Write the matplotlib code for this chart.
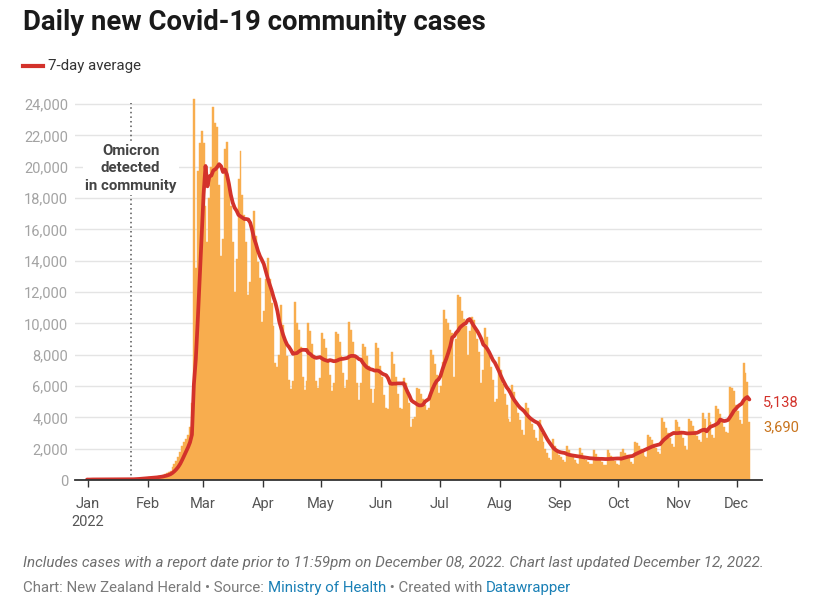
import pandas as pd
import matplotlib
matplotlib.use("Agg")
import matplotlib.pyplot as plt
import matplotlib.dates as mdates
from matplotlib.lines import Line2D

plt.rcParams['font.family'] = ['Roboto', 'DejaVu Sans']

# daily community cases from 1 Jan 2022, one row per week (Mon..Sun)
start_date = "2022-01-01"
daily_cases = [
    30, 25,                                              # Sat 1 - Sun 2 Jan
    45, 42, 38, 36, 30, 24, 22,                          # 3 Jan
    40, 46, 42, 38, 34, 30, 28,                          # 10 Jan
    44, 48, 52, 45, 40, 35, 36,                          # 17 Jan
    60, 75, 90, 95, 100, 105, 80,                        # 24 Jan
    120, 140, 160, 180, 190, 200, 180,                   # 31 Jan
    230, 260, 310, 360, 420, 480, 550,                   # 7 Feb
    800, 1000, 1200, 1450, 1800, 2200, 2450,             # 14 Feb
    2600, 2900, 3400, 4900, 24300, 13500, 19700,         # 21 Feb
    21500, 22300, 21500, 17500, 15200, 18000, 20000,     # 28 Feb
    23800, 22800, 22500, 18800, 14300, 15400, 21100,     # 7 Mar
    21600, 18800, 17500, 15200, 12000, 14100, 19200,     # 14 Mar
    21000, 18200, 16900, 15200, 11800, 12650, 16000,     # 21 Mar
    17200, 15600, 13900, 12900, 10100, 10800, 12800,     # 28 Mar
    14150, 12800, 11300, 9800, 7450, 7200, 7950,         # 4 Apr
    11150, 9900, 8900, 7900, 6400, 5800, 6300,           # 11 Apr
    11380, 10000, 9600, 8500, 6600, 5750, 6300,          # 18 Apr
    10000, 9500, 8700, 8000, 6300, 5900, 6500,           # 25 Apr
    9360, 9000, 8400, 7700, 6700, 5700, 6200,            # 2 May
    9470, 9300, 8800, 7900, 6800, 5850, 6400,            # 9 May
    10100, 9600, 8800, 7800, 6200, 5100, 6200,           # 16 May
    8680, 8500, 7900, 7300, 5800, 4900, 5800,            # 23 May
    8720, 8400, 7300, 6600, 5400, 4570, 4500,            # 30 May
    6400, 8190, 7400, 6600, 5500, 4570, 4500,            # 6 Jun
    6490, 6200, 5500, 4900, 3400, 3900, 3990,            # 13 Jun
    5850, 5800, 5500, 5200, 4800, 4470, 4600,            # 20 Jun
    8300, 8000, 7400, 6700, 5530, 6000, 7500,            # 27 Jun
    10850, 10300, 10000, 9600, 9400, 6600, 9000,         # 4 Jul
    11810, 11700, 10800, 10300, 9800, 8000, 9500,        # 11 Jul
    10430, 10200, 9500, 9000, 8200, 6170, 7000,          # 18 Jul
    9680, 9100, 8000, 7200, 6400, 5000, 5200,            # 25 Jul
    7870, 7000, 6100, 5500, 4800, 3900, 3700,            # 1 Aug
    6060, 5600, 4900, 4300, 3800, 3200, 2900,            # 8 Aug
    4940, 4600, 4000, 3600, 3200, 2700, 2500,            # 15 Aug
    3830, 3000, 2400, 2000, 1700, 1400, 1300,            # 22 Aug
    2600, 2200, 1800, 1600, 1450, 1250, 1150,            # 29 Aug
    2150, 1900, 1600, 1450, 1300, 1100, 1050,            # 5 Sep
    2020, 1750, 1450, 1300, 1150, 1000, 1000,            # 12 Sep
    1900, 1650, 1450, 1300, 1150, 950, 950,              # 19 Sep
    1915, 1700, 1500, 1350, 1200, 1000, 950,             # 26 Sep
    1800, 1950, 1750, 1600, 1450, 1150, 1050,            # 3 Oct
    2440, 2350, 2200, 2000, 1800, 1550, 1450,            # 10 Oct
    2870, 2750, 2550, 2300, 2050, 1800, 1650,            # 17 Oct
    3940, 3700, 3300, 3000, 2700, 2300, 2100,            # 24 Oct
    3830, 3700, 3400, 3100, 2700, 2150, 1915,            # 31 Oct
    3870, 3750, 3450, 3150, 2800, 2550, 2400,            # 7 Nov
    4250, 3900, 2700, 4300, 3700, 2900, 2700,            # 14 Nov
    4720, 4500, 4200, 3900, 3400, 3090, 3000,            # 21 Nov
    5950, 5850, 5700, 4800, 4400, 3800, 3570,            # 28 Nov
    7450, 6810, 6246, 3690,                              # 5 - 8 Dec
]
window = 7

y_ticks = [0, 2000, 4000, 6000, 8000, 10000, 12000, 14000, 16000, 18000, 20000, 22000, 24000]
year_label = "2022"
title = "Daily new Covid-19 community cases"
legend_label = "7-day average"
event_date = "2022-01-23"
event_text = "Omicron\ndetected\nin community"
note = ("Includes cases with a report date prior to 11:59pm on December 08, 2022. "
        "Chart last updated December 12, 2022.")
credit_parts = [("Chart: New Zealand Herald \u2022 Source: ", "#7a7a7a"),
                ("Ministry of Health", "#1a80b6"),
                (" \u2022 Created with ", "#7a7a7a"),
                ("Datawrapper", "#1a80b6")]

bar_color = "#f8ad4e"
line_color = "#d3322b"
case_label_color = "#c8741d"

dates = pd.date_range(start_date, periods=len(daily_cases), freq="D")
avg = pd.Series(daily_cases).rolling(window, min_periods=1).mean()
x = mdates.date2num(dates) - 0.5   # each day's bar sits just before its date

W, H = 817, 605
fig = plt.figure(figsize=(W / 100, H / 100), dpi=100)
ax = fig.add_axes([75 / W, 1 - 480 / H, (762 - 75) / W, (480 - 97.7) / H])

ax.bar(x, daily_cases, width=1.0, color=bar_color, edgecolor=bar_color, linewidth=0.3, zorder=2)
ax.plot(x, avg, color=line_color, lw=2.7, solid_capstyle="round", solid_joinstyle="round", zorder=3)

x0 = mdates.date2num(pd.Timestamp(start_date))
ax.set_xlim(x0 - 6.7, x0 + 347)
ax.set_ylim(0, 24400)

ax.set_yticks(y_ticks)
ax.set_yticklabels([f"{v:,}" for v in y_ticks])
ax.tick_params(axis="y", length=0, pad=5, labelcolor="#a3a3a3", labelsize=10.5)
ax.yaxis.grid(True, color="#e4e4e4", lw=1)
ax.set_axisbelow(True)

months = pd.date_range(start_date, dates[-1], freq="MS")
ax.set_xticks(mdates.date2num(months))
labels = [m.strftime("%b") for m in months]
labels[0] = labels[0] + "\n" + year_label
ax.set_xticklabels(labels, linespacing=1.4)
ax.tick_params(axis="x", length=5, width=1, color="#333333", pad=7,
               labelcolor="#555555", labelsize=10.5)

for s in ["top", "right", "left"]:
    ax.spines[s].set_visible(False)
ax.spines["bottom"].set_color("#333333")
ax.spines["bottom"].set_linewidth(1.3)
ax.spines["bottom"].set_zorder(4)

# event marker
ex = mdates.date2num(pd.Timestamp(event_date))
ax.axvline(ex, ymin=0, ymax=0.985, color="#555555", ls=(0, (1, 2)), lw=1.1, zorder=1)
ax.text(ex, 19900, event_text, ha="center", va="center", fontsize=10.8, fontweight="bold",
        color="#444444", linespacing=1.3,
        bbox=dict(fc="white", ec="none", pad=1.5), zorder=5)

# end labels
ax.annotate(f"{avg.iloc[-1]:,.0f}", xy=(x[-1], avg.iloc[-1]), xytext=(10, -2),
            textcoords="offset points", ha="left", va="center", fontsize=10.5,
            color=line_color, annotation_clip=False)
ax.annotate(f"{daily_cases[-1]:,}", xy=(x[-1], daily_cases[-1]), xytext=(10, -3.5),
            textcoords="offset points", ha="left", va="center", fontsize=10.5,
            color=case_label_color, annotation_clip=False)

# header
fig.text(23 / W, 1 - 23 / H, title, fontsize=19.8, fontweight="bold", color="#1a1a1a", va="center")
fig.add_artist(Line2D([23 / W, 43 / W], [1 - 66 / H] * 2, color=line_color, lw=3,
                      transform=fig.transFigure))
fig.text(48 / W, 1 - 66 / H, legend_label, fontsize=10.8, color="#333333", va="center")

# footer
fig.text(23 / W, 1 - 563 / H, note, fontsize=10.88, style="italic", color="#6e6e6e", va="center")
prev = fig.text(23 / W, 1 - 588 / H, credit_parts[0][0], fontsize=10.8,
                color=credit_parts[0][1], va="center")
for txt, col in credit_parts[1:]:
    prev = ax.annotate(txt, xy=(1, 0), xycoords=prev, va="bottom", ha="left",
                       fontsize=10.8, color=col, annotation_clip=False)

fig.savefig("out.png", dpi=100, facecolor="white")
